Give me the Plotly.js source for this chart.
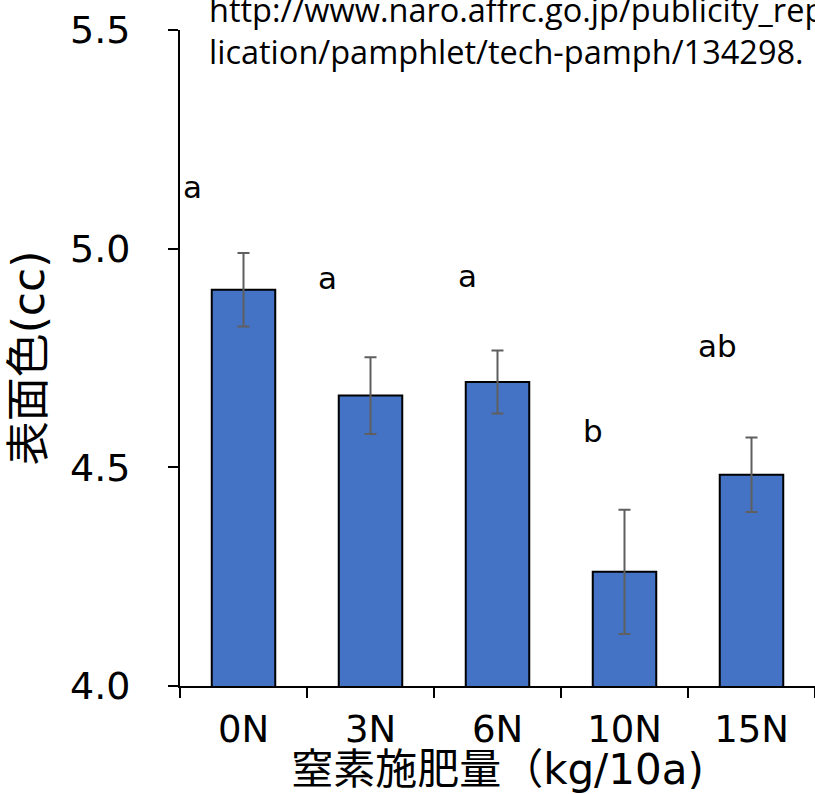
<!DOCTYPE html>
<html>
<head>
<meta charset="utf-8">
<script src="https://cdn.plot.ly/plotly-3.0.1.min.js"></script>
<style>
  html, body { margin: 0; padding: 0; background: #fff; }
  #chart { width: 815px; height: 794px; }
</style>
</head>
<body>
<div id="chart"></div>
<script>
// Nitrogen application rate vs. surface colour (cc)
const categories = ['0N', '3N', '6N', '10N', '15N'];
const surfaceColor = [4.906, 4.664, 4.695, 4.261, 4.483];
const stdError = [0.084, 0.088, 0.072, 0.142, 0.085];
const groupLetters = ['a', 'a', 'a', 'b', 'ab'];
const yTicks = [4.0, 4.5, 5.0, 5.5];

const mixFont = '"DejaVu Sans", "Noto Sans CJK JP", sans-serif';

const bars = {
  type: 'bar',
  x: categories,
  y: surfaceColor,
  width: 0.5,
  marker: { color: '#4472C4', line: { color: '#000000', width: 2 } },
  error_y: {
    type: 'data',
    array: stdError,
    visible: true,
    color: '#5f5f5f',
    thickness: 2,
    width: 6
  },
  hoverinfo: 'x+y'
};

// significance letters sit up-left of each bar's error bar
const letterDx = [-0.40, -0.34, -0.24, -0.25, -0.27];
const letterDy = [0.15, 0.18, 0.17, 0.18, 0.21];
const annotations = groupLetters.map((t, i) => ({
  x: i + letterDx[i],
  y: surfaceColor[i] + stdError[i] + letterDy[i],
  xref: 'x', yref: 'y',
  text: t,
  showarrow: false,
  font: { family: mixFont, size: 31, color: '#000' },
  xanchor: 'center', yanchor: 'middle'
}));

// source URL printed across the top of the figure
annotations.push({
  xref: 'paper', yref: 'paper',
  x: 0.043, y: 0.999,
  xanchor: 'left', yanchor: 'middle',
  align: 'left',
  showarrow: false,
  text: 'http://www.naro.affrc.go.jp/publicity_report/pub<br>lication/pamphlet/tech-pamph/134298.',
  font: { family: '"Open Sans", sans-serif', size: 32.5, color: '#000' }
});

const layout = {
  width: 815,
  height: 794,
  margin: { l: 180, r: 0, t: 30, b: 108, pad: 0 },
  paper_bgcolor: '#ffffff',
  plot_bgcolor: '#ffffff',
  showlegend: false,
  xaxis: {
    type: 'category',
    range: [-0.5, 4.5],
    showline: true,
    linecolor: '#000',
    linewidth: 2,
    ticks: 'outside',
    tickson: 'boundaries',
    ticklen: 10,
    tickwidth: 2,
    tickcolor: '#000',
    ticklabelstandoff: 10,
    tickfont: { family: mixFont, size: 37, color: '#000' },
    showgrid: false,
    zeroline: false,
    title: {
      text: '窒素施肥量（kg/10a)',
      font: { family: mixFont, size: 42, color: '#000' },
      standoff: 24
    }
  },
  yaxis: {
    range: [4.0, 5.5],
    tickvals: yTicks,
    ticktext: yTicks.map(v => v.toFixed(1)),
    showline: true,
    linecolor: '#000',
    linewidth: 2,
    ticks: 'outside',
    ticklen: 10,
    tickwidth: 2,
    tickcolor: '#000',
    ticklabelstandoff: 30,
    tickfont: { family: mixFont, size: 38, color: '#000' },
    showgrid: false,
    zeroline: false,
    title: {
      text: '表面色(cc)',
      font: { family: mixFont, size: 44, color: '#000' },
      standoff: 12
    }
  },
  annotations: annotations
};

Plotly.newPlot('chart', [bars], layout, { displayModeBar: false, staticPlot: true });
</script>
</body>
</html>
